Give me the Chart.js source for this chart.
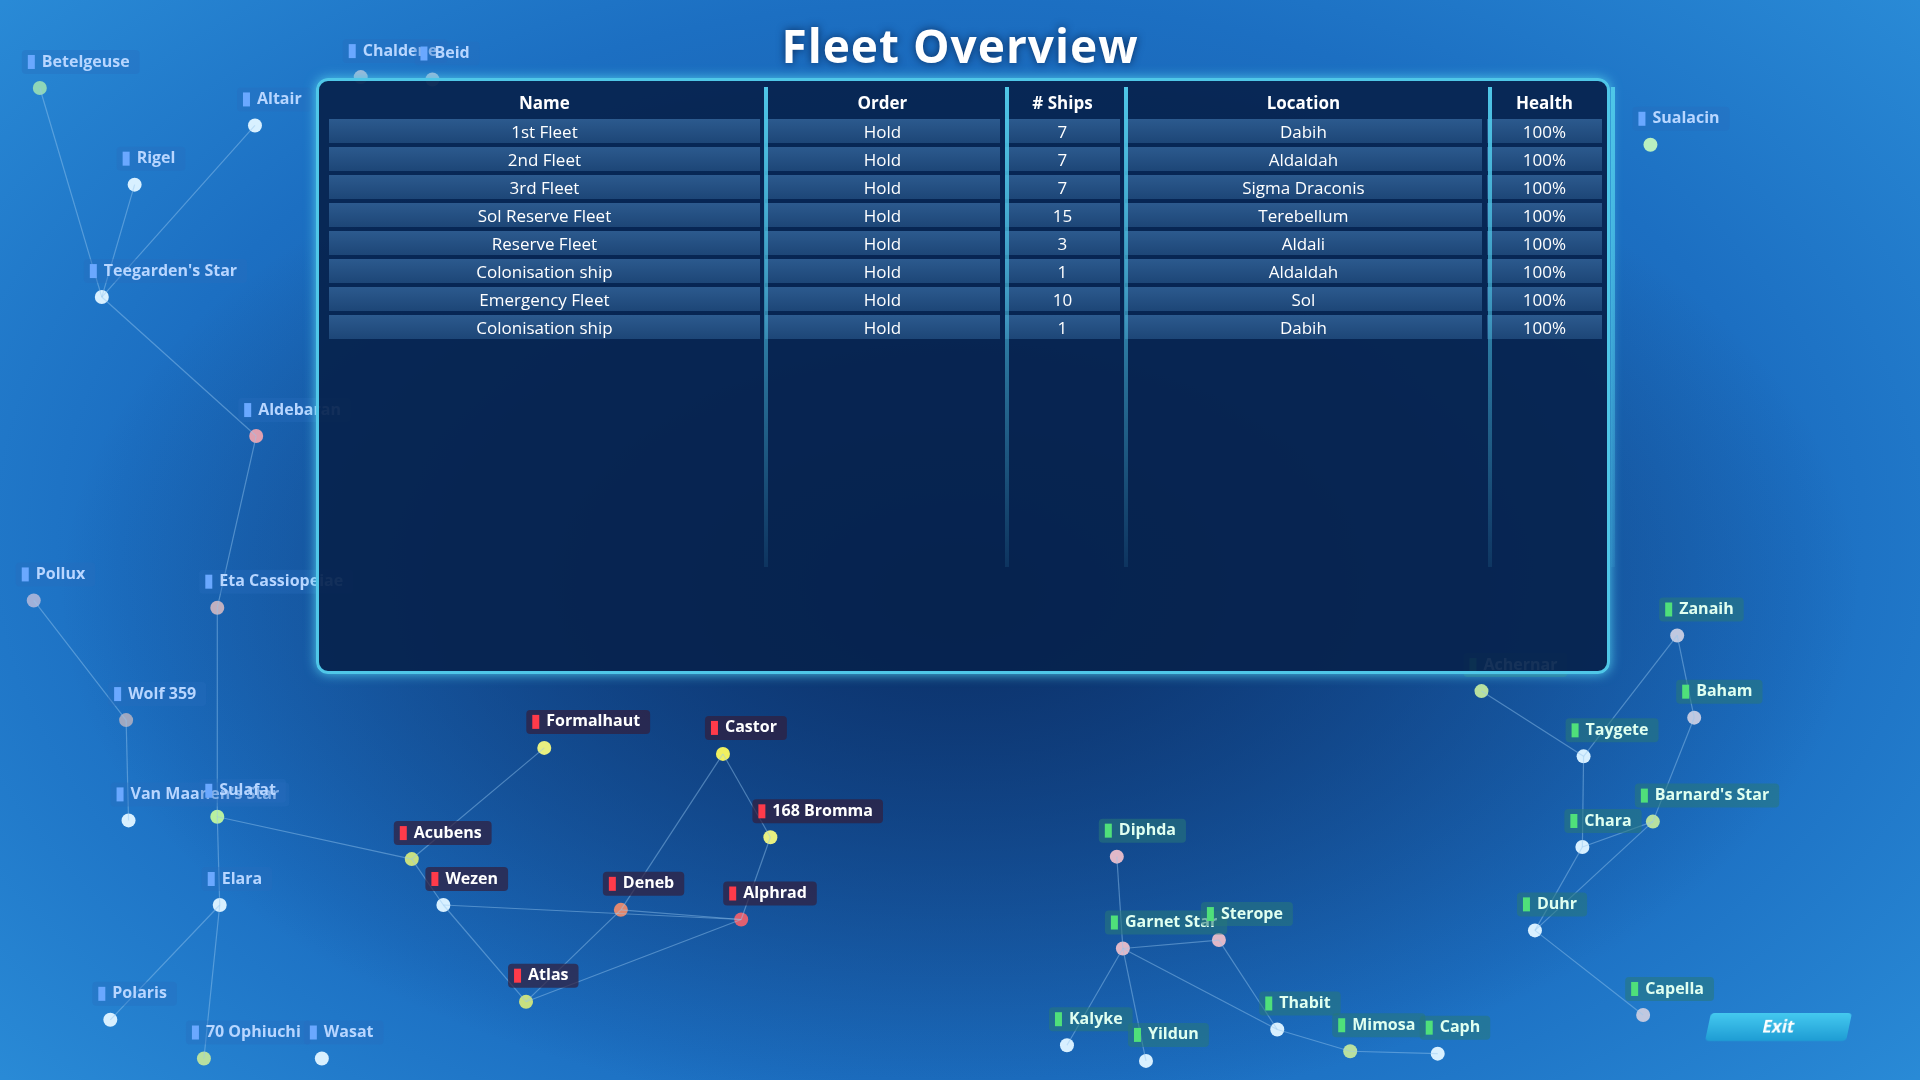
<!DOCTYPE html>
<html>
<head>
<meta charset="utf-8">
<script src="https://cdn.jsdelivr.net/npm/chart.js@4"></script>
<style>
  html, body { margin: 0; padding: 0; width: 1920px; height: 1080px; overflow: hidden; }
  body {
    background:
      radial-gradient(ellipse 900px 520px at 50% 55%, #0b2f66 0%, rgba(11,47,102,0) 100%),
      radial-gradient(ellipse 1400px 900px at 50% 50%, #154f9c 0%, #1c6fc2 60%, #2d92dc 100%);
    font-family: "Open Sans", "Noto Sans", sans-serif;
  }
  #wrap { position: absolute; left: 0; top: 0; width: 1920px; height: 1080px; }
  h1 {
    position: absolute; left: 0; width: 1920px; top: 14px; margin: 0; text-align: center;
    color: #fff; font-size: 46px; font-weight: bold; letter-spacing: 1px;
    text-shadow: 0 0 8px #0a2e60;
  }
  #panel {
    position: absolute; left: 316px; top: 78px; width: 1288px; height: 590px;
    background: rgba(6, 34, 78, 0.93); border: 3px solid #4fc7e8; border-radius: 12px;
    box-shadow: 0 0 12px #4fc7e8;
  }
  table { position: absolute; left: 5px; top: 4px; border-collapse: separate; border-spacing: 5px 4px; }
  th { color: #fff; font-size: 17px; font-weight: bold; height: 24px; text-align: center; }
  td { color: #fff; font-size: 17px; height: 24px; padding: 0; text-align: center;
       background: linear-gradient(#2c5a8e, #1d4677); }
  .sep { position: absolute; top: 6px; width: 4px; height: 480px;
         background: linear-gradient(#4fc7e8, rgba(79,199,232,0.1)); }
  #exit {
    position: absolute; left: 1708px; top: 1013px; width: 141px; height: 28px;
    background: linear-gradient(#44c9ef, #1e9cd4); color: #fff; font-weight: bold;
    font-size: 17px; text-align: center; line-height: 28px; border-radius: 4px;
    transform: skewX(-12deg);
  }
</style>
</head>
<body>
<div id="wrap"><canvas id="map" width="1920" height="1080"></canvas></div>
<h1>Fleet Overview</h1>
<div id="panel"><table id="fleet"></table></div>
<div id="exit">Exit</div>
<script>
// star map (reference pixel space 1568 x 882)
const starNames = ["Betelgeuse","Chaldene","Beid","Altair","Rigel","Teegarden's Star","Aldebaran","Pollux",
  "Eta Cassiopeiae","Wolf 359","Van Maanen's Star","Sulafat","Elara","Polaris","70 Ophiuchi","Wasat",
  "Acubens","Wezen","Atlas","Formalhaut","Castor","168 Bromma","Deneb","Alphrad",
  "Diphda","Garnet Star","Sterope","Thabit","Kalyke","Yildun","Mimosa","Caph",
  "Zanaih","Baham","Taygete","Barnard's Star","Chara","Duhr","Capella","Sualacin","Achernar"];
const starX = [27,291,350,204,105,78,205,22,173,98,100,173,175,85,162,259,333,359,427,442,589,628,505,604,
  913,918,997,1045,872,937,1105,1177,1374,1388,1297,1354,1296,1257,1346,1352,1213];
const starY = [67,58,60,98,147,240,355,491,497,590,673,670,743,838,870,870,705,743,823,613,618,687,747,755,
  703,779,772,846,859,872,864,866,520,588,620,674,695,764,834,114,566];
const starFaction = ["b","b","b","b","b","b","b","b","b","b","b","b","b","b","b","b",
  "r","r","r","r","r","r","r","r","g","g","g","g","g","g","g","g","g","g","g","g","g","g","g","b","g"];
const starColor = ["#8fd6b8","#a0b8d8","#a0b8d8","#d8f0ff","#d8f0ff","#d8f0ff","#e0a0b0","#a0b0d8",
  "#c0b0c0","#a0a8c0","#d8f0ff","#b8f0a0","#d8f0ff","#d8f0ff","#b8e0a0","#d8f0ff",
  "#c8e080","#d8f0ff","#c8e080","#e8f080","#f0f060","#e8f080","#e08870","#e06070",
  "#e0b8c8","#e0b8c8","#e0b8c8","#d8f0ff","#d8f0ff","#d8f0ff","#b8e0a0","#d8f0ff",
  "#c0c8e0","#c0c8e0","#d8f0ff","#b8e0a0","#d8f0ff","#d8f0ff","#c0c8e0","#b8f0c0","#b8e0a0"];
const lanes = [["Betelgeuse","Teegarden's Star"],["Rigel","Teegarden's Star"],["Altair","Teegarden's Star"],
  ["Teegarden's Star","Aldebaran"],["Aldebaran","Eta Cassiopeiae"],["Pollux","Wolf 359"],["Wolf 359","Van Maanen's Star"],
  ["Eta Cassiopeiae","Sulafat"],["Sulafat","Elara"],["Sulafat","Acubens"],["Elara","Polaris"],["Elara","70 Ophiuchi"],
  ["Acubens","Formalhaut"],["Acubens","Wezen"],["Wezen","Atlas"],["Wezen","Alphrad"],["Atlas","Deneb"],["Atlas","Alphrad"],
  ["Deneb","Castor"],["Castor","168 Bromma"],["168 Bromma","Alphrad"],["Deneb","Alphrad"],
  ["Diphda","Garnet Star"],["Garnet Star","Sterope"],["Garnet Star","Kalyke"],["Garnet Star","Yildun"],["Garnet Star","Thabit"],
  ["Sterope","Thabit"],["Thabit","Mimosa"],["Mimosa","Caph"],["Zanaih","Taygete"],["Zanaih","Baham"],["Baham","Barnard's Star"],
  ["Taygete","Chara"],["Achernar","Taygete"],["Chara","Duhr"],["Barnard's Star","Duhr"],["Duhr","Capella"],["Chara","Barnard's Star"]];

// fleet table
const fleetHeaders = ["Name","Order","# Ships","Location","Health"];
const fleetNames = ["1st Fleet","2nd Fleet","3rd Fleet","Sol Reserve Fleet","Reserve Fleet","Colonisation ship","Emergency Fleet","Colonisation ship"];
const fleetOrders = ["Hold","Hold","Hold","Hold","Hold","Hold","Hold","Hold"];
const fleetShips = [7,7,7,15,3,1,10,1];
const fleetLocations = ["Dabih","Aldaldah","Sigma Draconis","Terebellum","Aldali","Aldaldah","Sol","Dabih"];
const fleetHealth = ["100%","100%","100%","100%","100%","100%","100%","100%"];

const colWidths = [434, 236, 114, 359, 114];
const table = document.getElementById("fleet");
let html = "<tr>" + fleetHeaders.map((h, i) => `<th style="width:${colWidths[i]}px">${h}</th>`).join("") + "</tr>";
fleetNames.forEach((n, i) => {
  html += `<tr><td>${n}</td><td>${fleetOrders[i]}</td><td>${fleetShips[i]}</td><td>${fleetLocations[i]}</td><td>${fleetHealth[i]}</td></tr>`;
});
table.innerHTML = html;
const panel = document.getElementById("panel");
let acc = 5 + 5;
colWidths.slice(0, -1).forEach((w) => {
  acc += w + 5;
  const s = document.createElement("div");
  s.className = "sep";
  s.style.left = (acc - 4) + "px";
  panel.appendChild(s);
});
const lastSep = document.createElement("div");
lastSep.className = "sep";
lastSep.style.left = (acc + colWidths[4] + 5) + "px";
panel.appendChild(lastSep);

const idx = (n) => starNames.indexOf(n);
const factionBg = { b: "rgba(40,110,190,0.35)", r: "rgba(50,30,60,0.7)", g: "rgba(40,120,120,0.55)" };
const factionIcon = { b: "#6aa8ff", r: "#ff3b4a", g: "#4fe07a" };
const factionText = { b: "#b8d6ff", r: "#ffffff", g: "#e0fff0" };

const labelPlugin = {
  id: "starLabels",
  afterDatasetsDraw(chart) {
    const { ctx, scales } = chart;
    ctx.save();
    ctx.font = "bold 16px 'Open Sans', sans-serif";
    ctx.textBaseline = "middle";
    starNames.forEach((name, i) => {
      const px = scales.x.getPixelForValue(starX[i]);
      const py = scales.y.getPixelForValue(starY[i]);
      const f = starFaction[i];
      const tx = px - 10, ty = py - 26;
      const w = ctx.measureText(name).width + 30;
      ctx.fillStyle = factionBg[f];
      ctx.beginPath();
      ctx.roundRect(tx - 8, ty - 12, w, 24, 4);
      ctx.fill();
      ctx.fillStyle = factionIcon[f];
      ctx.fillRect(tx - 2, ty - 7, 7, 14);
      ctx.fillStyle = factionText[f];
      ctx.fillText(name, tx + 12, ty);
    });
    ctx.restore();
  }
};

const laneSets = lanes.map(([a, b]) => ({
  type: "line",
  data: [{ x: starX[idx(a)], y: starY[idx(a)] }, { x: starX[idx(b)], y: starY[idx(b)] }],
  borderColor: "rgba(150,200,240,0.45)",
  borderWidth: 1.2,
  pointRadius: 0,
}));

new Chart(document.getElementById("map"), {
  type: "scatter",
  data: {
    datasets: [
      ...laneSets,
      {
        data: starX.map((x, i) => ({ x, y: starY[i] })),
        backgroundColor: starColor,
        borderWidth: 0,
        pointRadius: 7,
      },
    ],
  },
  options: {
    responsive: false,
    animation: false,
    layout: { padding: 0 },
    plugins: { legend: { display: false }, tooltip: { enabled: false } },
    scales: {
      x: { display: false, min: 0, max: 1568 },
      y: { display: false, min: 0, max: 882, reverse: true },
    },
  },
  plugins: [labelPlugin],
});
</script>
</body>
</html>
